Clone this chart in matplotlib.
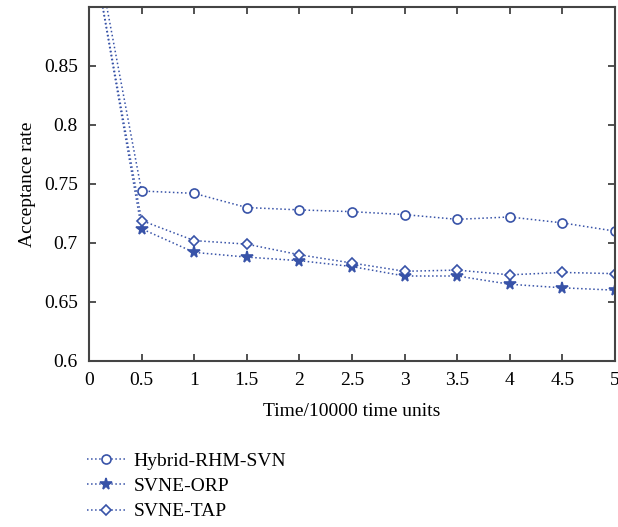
import matplotlib.pyplot as plt
import numpy as np

# data
time = [0, 0.5, 1, 1.5, 2, 2.5, 3, 3.5, 4, 4.5, 5]
hybrid = [0.98, 0.744, 0.742, 0.730, 0.728, 0.7265, 0.724, 0.720, 0.722, 0.717, 0.710]
orp = [0.965, 0.712, 0.692, 0.688, 0.685, 0.680, 0.672, 0.672, 0.665, 0.662, 0.660]
tap = [0.965, 0.719, 0.702, 0.699, 0.690, 0.683, 0.676, 0.677, 0.673, 0.675, 0.674]

xticks = [0, 0.5, 1, 1.5, 2, 2.5, 3, 3.5, 4, 4.5, 5]
xticklabels = ['0', '0.5', '1', '1.5', '2', '2.5', '3', '3.5', '4', '4.5', '5']
yticks = [0.6, 0.65, 0.7, 0.75, 0.8, 0.85]
yticklabels = ['0.6', '0.65', '0.7', '0.75', '0.8', '0.85']

plt.rcParams['font.family'] = ['Liberation Serif', 'DejaVu Serif']
plt.rcParams['font.size'] = 14

color = '#3853a8'
fig = plt.figure(figsize=(6.18, 5.27), dpi=100)
ax = fig.add_axes([0.144, 0.315, 0.851, 0.672])

style = dict(color=color, linestyle=':', linewidth=1.1, markeredgewidth=1.2)
ax.plot(time, hybrid, marker='o', markersize=6.5, markerfacecolor='white',
        label='Hybrid-RHM-SVN', **style)
ax.plot(time, orp, marker='*', markersize=8.5, markerfacecolor=color,
        label='SVNE-ORP', **style)
ax.plot(time, tap, marker='D', markersize=5.5, markerfacecolor='white',
        label='SVNE-TAP', **style)

ax.set_xlim(0, 5)
ax.set_ylim(0.6, 0.9)
ax.set_xticks(xticks)
ax.set_xticklabels(xticklabels)
ax.set_yticks(yticks)
ax.set_yticklabels(yticklabels)
ax.tick_params(direction='in', top=True, right=True, length=5, width=1.2,
               color='#333333', pad=8)
for s in ax.spines.values():
    s.set_linewidth(1.5)
    s.set_color('#444444')

ax.set_xlabel('Time/10000 time units', labelpad=10)
ax.set_ylabel('Acceptance rate', labelpad=6)

fig.legend(loc='upper left', bbox_to_anchor=(0.128, 0.157), frameon=False,
           handlelength=2.0, handletextpad=0.4, labelspacing=0.4,
           borderaxespad=0)

fig.savefig('out.png', dpi=100)
